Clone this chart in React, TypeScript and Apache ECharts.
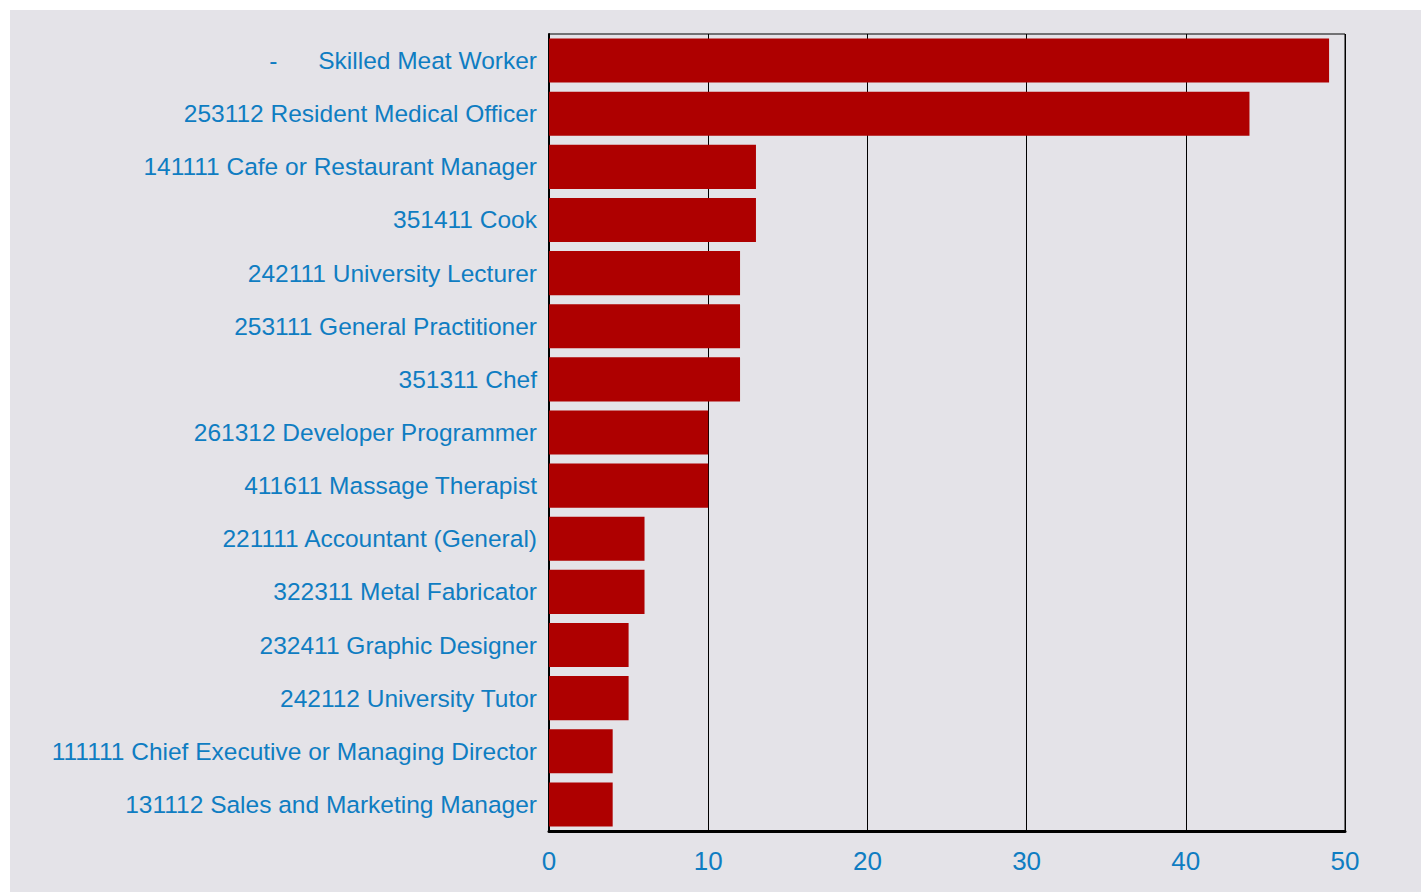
import React, { useEffect, useRef } from "react";
import * as echarts from "echarts";

const categories = [
  "-\u00a0\u00a0\u00a0\u00a0\u00a0\u00a0Skilled Meat Worker",
  "253112 Resident Medical Officer",
  "141111 Cafe or Restaurant Manager",
  "351411 Cook",
  "242111 University Lecturer",
  "253111 General Practitioner",
  "351311 Chef",
  "261312 Developer Programmer",
  "411611 Massage Therapist",
  "221111 Accountant (General)",
  "322311 Metal Fabricator",
  "232411 Graphic Designer",
  "242112 University Tutor",
  "111111 Chief Executive or Managing Director",
  "131112 Sales and Marketing Manager",
];
const values = [49, 44, 13, 13, 12, 12, 12, 10, 10, 6, 6, 5, 5, 4, 4];

const xMin = 0;
const xMax = 50;
const xInterval = 10;

export default function App() {
  const ref = useRef<HTMLDivElement>(null);
  useEffect(() => {
    if (!ref.current) return;
    const chart = echarts.init(ref.current, null, { renderer: "svg" });
    const labelColor = "#0f7dc2";
    chart.setOption({
      animation: false,
      backgroundColor: "#e4e3e8",
      grid: {
        left: 539,
        top: 24,
        right: 76,
        bottom: 61,
        show: true,
        borderColor: "#000",
        borderWidth: 1,
        containLabel: false,
      },
      xAxis: {
        type: "value",
        min: xMin,
        max: xMax,
        interval: xInterval,
        axisLine: { show: true, lineStyle: { color: "#000", width: 3 } },
        axisTick: { show: false },
        axisLabel: {
          color: labelColor,
          fontSize: 26,
          fontFamily: "Liberation Sans, Arial, sans-serif",
          margin: 17,
        },
        splitLine: { show: true, lineStyle: { color: "#000", width: 1 } },
      },
      yAxis: {
        type: "category",
        data: categories,
        inverse: true,
        axisLine: { show: true, lineStyle: { color: "#000", width: 2 } },
        axisTick: { show: false },
        axisLabel: {
          color: labelColor,
          fontSize: 24.5,
          fontFamily: "Liberation Sans, Arial, sans-serif",
          margin: 12,
          padding: [2, 0, 0, 0],
        },
        splitLine: { show: false },
      },
      series: [
        {
          type: "bar",
          data: values,
          barCategoryGap: "17%",
          itemStyle: { color: "#ae0000" },
        },
      ],
    });
    return () => chart.dispose();
  }, []);
  return (
    <div
      ref={ref}
      style={{
        position: "absolute",
        left: 10,
        top: 10,
        width: 1411,
        height: 882,
      }}
    />
  );
}
